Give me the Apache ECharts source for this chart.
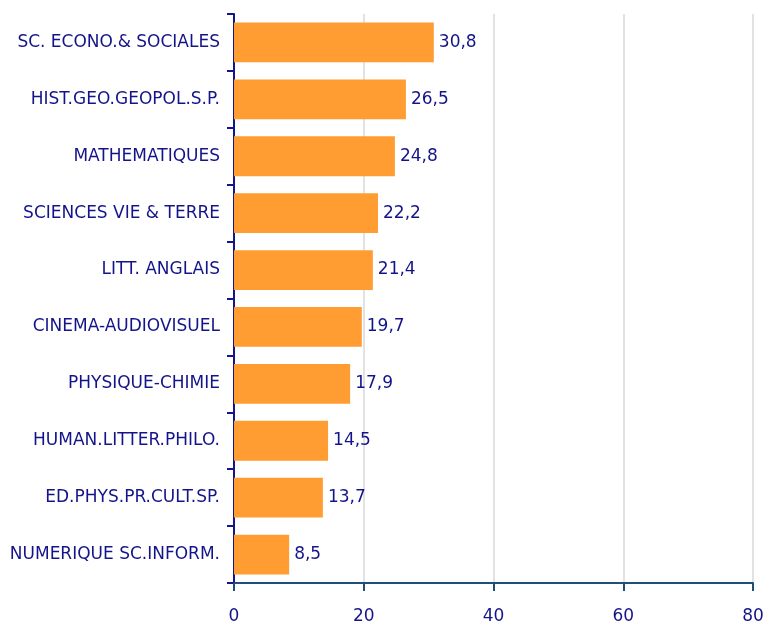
<!DOCTYPE html>
<html>
<head>
<meta charset="utf-8">
<script src="https://cdn.jsdelivr.net/npm/echarts@6/dist/echarts.min.js"></script>
<style>
html, body { margin: 0; padding: 0; background: #fff; }
#main { width: 766px; height: 625px; }
</style>
</head>
<body>
<div id="main"></div>
<script>
// matières, de haut en bas
var matieres = [
    "SC. ECONO.& SOCIALES",
    "HIST.GEO.GEOPOL.S.P.",
    "MATHEMATIQUES",
    "SCIENCES VIE & TERRE",
    "LITT. ANGLAIS",
    "CINEMA-AUDIOVISUEL",
    "PHYSIQUE-CHIMIE",
    "HUMAN.LITTER.PHILO.",
    "ED.PHYS.PR.CULT.SP.",
    "NUMERIQUE SC.INFORM."
];
var valeurs = [30.8, 26.5, 24.8, 22.2, 21.4, 19.7, 17.9, 14.5, 13.7, 8.5];
var xTicks = [0, 20, 40, 60, 80];

var font = "DejaVu Sans";
var navy = "#14148a";

var myChart = echarts.init(document.getElementById("main"));

myChart.setOption({
    animation: false,
    grid: { left: 234, right: 13, top: 14, bottom: 42, containLabel: false, outerBoundsMode: "none" },
    xAxis: {
        type: "value",
        min: xTicks[0],
        max: xTicks[xTicks.length - 1],
        interval: 20,
        axisLine: { show: true, lineStyle: { color: "#1f4e79", width: 2 } },
        axisTick: { show: true, length: 8, lineStyle: { color: "#1f4e79", width: 2 } },
        axisLabel: { color: navy, fontFamily: font, fontSize: 17, margin: 25 },
        splitLine: { show: true, lineStyle: { color: "#e2e2e2", width: 2 } }
    },
    yAxis: {
        type: "category",
        inverse: true,
        data: matieres,
        axisLine: { show: true, lineStyle: { color: "#14148c", width: 2 } },
        axisTick: { show: true, length: 7, lineStyle: { color: "#14148c", width: 2 } },
        axisLabel: { color: navy, fontFamily: font, fontSize: 17, margin: 14 },
        splitLine: { show: false }
    },
    series: [{
        type: "bar",
        data: valeurs,
        barWidth: "70%",
        itemStyle: { color: "#ff9d33" },
        label: {
            show: true,
            position: "right",
            distance: 5,
            color: navy,
            fontFamily: font,
            fontSize: 17,
            formatter: function (p) { return p.value.toFixed(1).replace(".", ","); }
        }
    }]
});
</script>
</body>
</html>
